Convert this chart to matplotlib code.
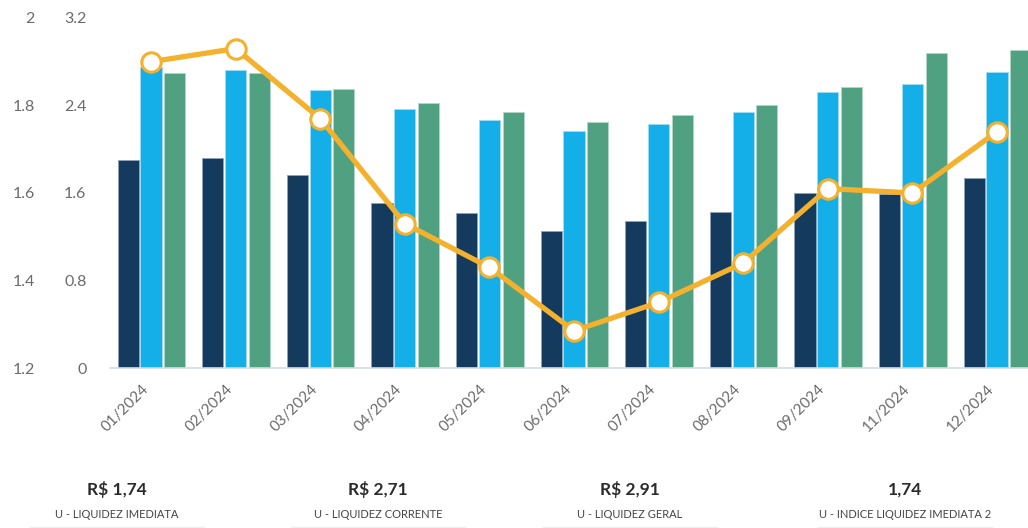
import matplotlib
matplotlib.use('Agg')
import numpy as np
import matplotlib.pyplot as plt

# data
months = ['01/2024', '02/2024', '03/2024', '04/2024', '05/2024', '06/2024',
          '07/2024', '08/2024', '09/2024', '11/2024', '12/2024']
imediata = [1.90, 1.92, 1.76, 1.51, 1.42, 1.25, 1.34, 1.43, 1.60, 1.59, 1.74]
corrente = [2.75, 2.72, 2.54, 2.37, 2.27, 2.17, 2.23, 2.34, 2.52, 2.60, 2.71]
geral = [2.70, 2.70, 2.55, 2.42, 2.34, 2.25, 2.31, 2.40, 2.57, 2.88, 2.91]
imediata2 = [1.90, 1.93, 1.77, 1.53, 1.43, 1.285, 1.35, 1.44, 1.61, 1.60, 1.74]

summary_values = ['R$ 1,74', 'R$ 2,71', 'R$ 2,91', '1,74']
summary_labels = ['U - LIQUIDEZ IMEDIATA', 'U - LIQUIDEZ CORRENTE',
                  'U - LIQUIDEZ GERAL', 'U - INDICE LIQUIDEZ IMEDIATA 2']

plt.rcParams['font.family'] = ['Lato', 'DejaVu Sans']

navy = '#143a5e'
blue = '#14aee9'
green = '#50a082'
orange = '#f3b12d'
gray = '#6b6b6b'

fig = plt.figure(figsize=(10.28, 5.28), dpi=100)
ax = fig.add_axes([0.107, 0.303, 0.904, 0.663])

x = np.arange(len(months))
w = 0.25
ax.bar(x - 0.27, imediata, w, color=navy, edgecolor='#8fa3b8', linewidth=0.6)
ax.bar(x, corrente, w, color=blue, edgecolor='#9fdcf5', linewidth=0.6)
ax.bar(x + 0.28, geral, w, color=green, edgecolor='#b2d6c8', linewidth=0.6)

ax.set_xlim(-0.485, 10.5)
ax.set_ylim(0, 3.2)
ax.set_yticks([0, 0.8, 1.6, 2.4, 3.2])
ax.set_yticklabels(['0', '0.8', '1.6', '2.4', '3.2'])
ax.set_xticks(x)
ax.set_xticklabels(months, rotation=45, ha='right', fontsize=11, color=gray)
ax.tick_params(axis='x', length=0, pad=10)
ax.tick_params(axis='y', length=0, pad=17, labelsize=11.5, labelcolor=gray)
for s in ['top', 'right', 'left']:
    ax.spines[s].set_visible(False)
ax.spines['bottom'].set_color('#d3dbea')
ax.spines['bottom'].set_linewidth(1.2)

ax2 = ax.twinx()
ax2.plot(x, imediata2, color=orange, linewidth=3.8, marker='o', markersize=14,
         markerfacecolor='white', markeredgecolor=orange, markeredgewidth=2.2,
         solid_capstyle='round', zorder=5)
ax2.set_ylim(1.2, 2.0)
ax2.set_yticks([1.2, 1.4, 1.6, 1.8, 2.0])
ax2.set_yticklabels(['1.2', '1.4', '1.6', '1.8', '2'])
ax2.yaxis.tick_left()
ax2.tick_params(axis='y', length=0, pad=54, labelsize=11.5, labelcolor=gray)
for s in ax2.spines.values():
    s.set_visible(False)

# summary cards below the chart
centers = [117, 378, 630, 905]
for cx, val, lab in zip(centers, summary_values, summary_labels):
    fx = cx / 1028
    fig.text(fx, 1 - 490 / 528, val, ha='center', va='center', fontsize=12.5,
             fontweight='bold', color='#2b2b2b')
    fig.text(fx, 1 - 515 / 528, lab, ha='center', va='center', fontsize=8,
             color='#444444')
    fig.add_artist(plt.Line2D([fx - 0.085, fx + 0.085], [0.002, 0.002],
                              color='#eeeeee', linewidth=1))

plt.savefig('out.png', dpi=100)
